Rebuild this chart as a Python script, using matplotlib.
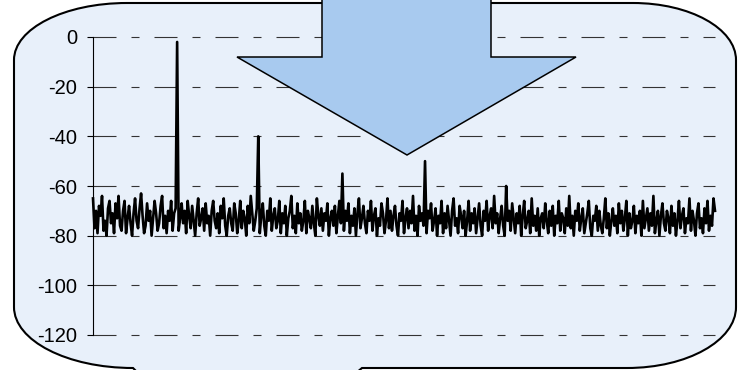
import numpy as np
import matplotlib
matplotlib.use("Agg")
import matplotlib.pyplot as plt
from matplotlib.path import Path
from matplotlib.patches import PathPatch, Polygon

plt.rcParams['font.family'] = ['Liberation Sans', 'DejaVu Sans']

# spectrum trace, dB (noise floor with harmonic peaks)
level_db = [
    -65, -77, -70, -79, -68, -72, -64, -78, -74, -80, -69, -66, -75, -71, -79, -67, -73, -64, -76, -78,
    -70, -66, -79, -73, -68, -75, -80, -71, -65, -74, -77, -69, -63, -72, -79, -76, -67, -74, -70, -80,
    -73, -66, -71, -78, -75, -68, -64, -77, -72, -79, -70, -74, -66, -78, -71, -69, -2, -78, -73, -67,
    -75, -70, -79, -66, -72, -77, -68, -74, -80, -71, -65, -76, -73, -69, -78, -67, -75, -72, -80, -70,
    -66, -74, -77, -71, -79, -68, -73, -65, -76, -80, -72, -69, -75, -78, -67, -71, -79, -74, -66, -77,
    -70, -73, -80, -68, -75, -64, -71, -78, -74, -69, -40, -79, -72, -67, -76, -80, -70, -74, -65, -78,
    -72, -69, -77, -74, -66, -79, -71, -75, -68, -80, -73, -70, -64, -77, -72, -79, -67, -75, -71, -78,
    -74, -66, -79, -70, -73, -77, -68, -75, -80, -65, -72, -76, -69, -78, -71, -74, -67, -80, -73, -70,
    -76, -68, -79, -72, -66, -75, -55, -78, -70, -74, -67, -79, -72, -76, -69, -80, -71, -65, -77, -73,
    -68, -75, -79, -70, -74, -66, -78, -72, -69, -80, -73, -76, -67, -71, -79, -74, -65, -77, -70, -78,
    -72, -68, -76, -80, -71, -74, -66, -79, -73, -69, -77, -70, -75, -64, -78, -72, -80, -68, -74, -71,
    -76, -50, -79, -70, -73, -67, -78, -74, -69, -80, -72, -75, -66, -79, -71, -77, -68, -74, -80, -70,
    -65, -76, -73, -79, -68, -72, -77, -70, -80, -74, -66, -78, -71, -75, -69, -79, -73, -67, -76, -80,
    -70, -74, -66, -78, -72, -69, -77, -64, -75, -71, -79, -73, -68, -76, -80, -60, -74, -70, -78, -67,
    -73, -79, -71, -75, -68, -80, -72, -66, -77, -74, -70, -79, -65, -76, -72, -78, -69, -80, -73, -71,
    -77, -67, -74, -79, -70, -76, -68, -80, -72, -75, -66, -78, -71, -73, -79, -69, -76, -64, -77, -72,
    -80, -70, -74, -67, -78, -73, -69, -79, -75, -71, -66, -77, -80, -72, -74, -68, -78, -70, -76, -79,
    -73, -65, -77, -71, -80, -74, -69, -76, -72, -79, -67, -75, -70, -78, -73, -66, -80, -71, -77, -74,
    -68, -79, -72, -75, -70, -80, -66, -77, -73, -69, -78, -71, -76, -64, -79, -74, -70, -80, -72, -67,
    -75, -78, -70, -73, -79, -68, -76, -71, -80, -74, -66, -77, -72, -69, -79, -73, -75, -65, -78, -70,
    -74, -80, -71, -67, -77, -73, -79, -69, -75, -66, -78, -72, -76, -65, -70,
]
y_ticks = [0, -20, -40, -60, -80, -100, -120]

W, H = 742, 370
fig = plt.figure(figsize=(W / 100, H / 100), dpi=100)
fig.patch.set_facecolor('white')

# background panel, drawn in pixel coordinates
bg = fig.add_axes([0, 0, 1, 1], zorder=0)
bg.set_xlim(0, W)
bg.set_ylim(H, 0)
bg.axis('off')

k = 0.5523
verts = [
    (127, 3), (633, 3),
    (633 + 103 * k, 3), (736, 60 - 57 * k), (736, 60),
    (736, 307),
    (736, 307 + 61 * k), (627 + 109 * k, 368), (627, 368),
    (362, 368), (356, 373), (138, 373), (133, 368),
    (133 - 119 * k, 368), (14, 307 + 61 * k), (14, 307),
    (14, 60),
    (14, 60 - 57 * k), (127 - 113 * k, 3), (127, 3),
    (127, 3),
]
codes = ([Path.MOVETO, Path.LINETO]
         + [Path.CURVE4] * 3
         + [Path.LINETO]
         + [Path.CURVE4] * 3
         + [Path.LINETO] * 4
         + [Path.CURVE4] * 3
         + [Path.LINETO]
         + [Path.CURVE4] * 3
         + [Path.CLOSEPOLY])
bg.add_patch(PathPatch(Path(verts, codes), facecolor='#e8f0fa',
                       edgecolor='black', lw=1.5, clip_on=False))

# spectrum axes
ax = fig.add_axes([93 / W, 35 / H, 622 / W, 298 / H], zorder=1)
ax.patch.set_alpha(0)
x = np.arange(len(level_db))
ax.plot(x, level_db, color='black', lw=1.9, zorder=3, clip_on=False)
ax.set_xlim(0, len(level_db) - 1)
ax.set_ylim(-120, 0)
ax.set_yticks(y_ticks)
ax.set_yticklabels([str(v) for v in y_ticks], fontsize=14.5)
ax.set_xticks([])
ax.tick_params(axis='y', length=4.3, width=0.8, pad=7, colors='black')
for side in ('top', 'right', 'bottom'):
    ax.spines[side].set_visible(False)
ax.spines['left'].set_linewidth(0.8)
for v in y_ticks:
    ax.axhline(v, color='#333333', lw=0.8,
               linestyle=(0, (20.7, 13.5, 7.2, 13.5)), zorder=1, clip_on=False)

# big down arrow over the panel
top = fig.add_axes([0, 0, 1, 1], zorder=2)
top.set_xlim(0, W)
top.set_ylim(H, 0)
top.axis('off')
arrow = [(322, -5), (322, 57), (237, 57), (407, 155),
         (576, 57), (491, 57), (491, -5)]
top.add_patch(Polygon(arrow, closed=True, facecolor='#a8caef',
                      edgecolor='black', lw=1.1, joinstyle='miter', clip_on=False))

fig.savefig('out.png', dpi=100)
